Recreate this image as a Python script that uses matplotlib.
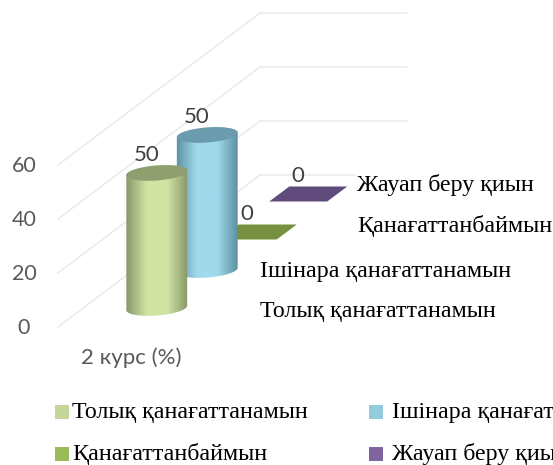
import numpy as np
import matplotlib
matplotlib.use('Agg')
import matplotlib.pyplot as plt
from matplotlib.colors import LinearSegmentedColormap
from matplotlib.patches import Polygon, Rectangle, PathPatch
from matplotlib.path import Path

series_names = ['Толық қанағаттанамын', 'Ішінара қанағаттанамын', 'Қанағаттанбаймын', 'Жауап беру қиын']
series_values = [50, 50, 0, 0]
value_ticks = [0, 20, 40, 60]
category = '2 курс (%)'

side_edge = ['#87976a', '#5c90a2', '#76913f', '#604a7b']
side_mid = ['#d2e4a2', '#9fdaec', '#76913f', '#604a7b']
top_col = ['#8f9f6f', '#6b9cad', '#76913f', '#604a7b']
legend_col = ['#c3d69b', '#93cddd', '#9bbb59', '#8064a2']

SERIF = ['Liberation Serif', 'DejaVu Serif']
SANS = ['Lato', 'Noto Sans', 'DejaVu Sans']
GREY = '#595959'
LABEL_SIZE = 17.3


# pixel position of a point: depth in series slots, value on the axis
def px(depth, value=0):
    return 131.5 + 50.5 * depth, 327 - 38 * depth - value * 2.7


def ellipse_pts(cx, cy, t):
    a, b, tilt = 30.5, 7.5, np.radians(4.5)
    x = a * np.cos(t)
    y = b * np.sin(t)
    return np.column_stack([cx + x * np.cos(tilt) + y * np.sin(tilt),
                            cy - x * np.sin(tilt) + y * np.cos(tilt)])


def cylinder(ax, i, value):
    cx, y0 = px(i + 0.5)
    _, y1 = px(i + 0.5, value)
    lower = ellipse_pts(cx, y0, np.linspace(0, np.pi, 40))
    upper = ellipse_pts(cx, y1, np.linspace(np.pi, 2 * np.pi, 40))
    clip = PathPatch(Path(np.vstack([lower, upper, lower[:1]])), transform=ax.transData)
    cmap = LinearSegmentedColormap.from_list('c', [side_edge[i], side_mid[i], side_mid[i], side_edge[i]])
    im = ax.imshow(np.linspace(0, 1, 128)[None, :], cmap=cmap, aspect='auto', zorder=3 + i * -0.1,
                   extent=(cx - 31, cx + 31, y0 + 12, y1 - 12))
    im.set_clip_path(clip)
    ax.add_patch(Polygon(ellipse_pts(cx, y1, np.linspace(0, 2 * np.pi, 80)), closed=True,
                         fc=top_col[i], ec='none', zorder=3 + i * -0.1 + 0.01))


def plate(ax, i):
    cx, cy = px(i + 0.5)
    pts = [(cx - 39, cy + 7.5), (cx + 19, cy + 7.5), (cx + 39, cy - 7.5), (cx - 19, cy - 7.5)]
    ax.add_patch(Polygon(pts, closed=True, fc=top_col[i], ec='none', zorder=2))


fig = plt.figure(figsize=(5.53, 4.65), dpi=100)
ax = fig.add_axes([0, 0, 1, 1])

for v in value_ticks:
    x0, y0 = px(0, v)
    x1, y1 = px(4, v)
    ax.plot([x0 - 73.5, x1 - 73.5, x1 + 73.5], [y0, y1, y1], color='#e6e6e6', lw=0.9, zorder=1)
    ax.text(24, y0 + 1, str(v), color=GREY, fontsize=15.5, family=SANS, ha='center', va='center')

ax.text(131, 358, category, color=GREY, fontsize=16, family=SANS, ha='center', va='center')

for i, val in enumerate(series_values):
    if val > 0:
        cylinder(ax, i, val)
    else:
        plate(ax, i)
    cx, cy = px(i + 0.5, val)
    ax.text(cx - 10.5, cy - 18, str(val), color='#404040', fontsize=16, family=SANS,
            ha='center', va='center', zorder=5)

# series names along the depth axis
ax.text(357, 185, series_names[3], fontsize=LABEL_SIZE, family=SERIF, va='center', zorder=4,
        bbox=dict(fc='white', ec='none', pad=1))
ax.text(357, 226, series_names[2], fontsize=LABEL_SIZE, family=SERIF, va='center', zorder=4,
        bbox=dict(fc='white', ec='none', pad=1))
ax.text(260, 271, series_names[1], fontsize=LABEL_SIZE, family=SERIF, va='center', zorder=4)
ax.text(260, 311, series_names[0], fontsize=LABEL_SIZE, family=SERIF, va='center', zorder=4)

# legend, two rows, runs off the right edge like the original
legend_x = [55, 369, 55, 369]
legend_y = [412, 412, 454, 454]
for i, name in enumerate(series_names):
    ax.add_patch(Rectangle((legend_x[i], legend_y[i] - 7), 14, 14, fc=legend_col[i], ec='none'))
    ax.text(legend_x[i] + (17 if i % 2 == 0 else 23), legend_y[i], name, fontsize=LABEL_SIZE,
            family=SERIF, va='center')

ax.set_xlim(0, 553)
ax.set_ylim(465, 0)
ax.axis('off')
fig.savefig('out.png', dpi=100)
